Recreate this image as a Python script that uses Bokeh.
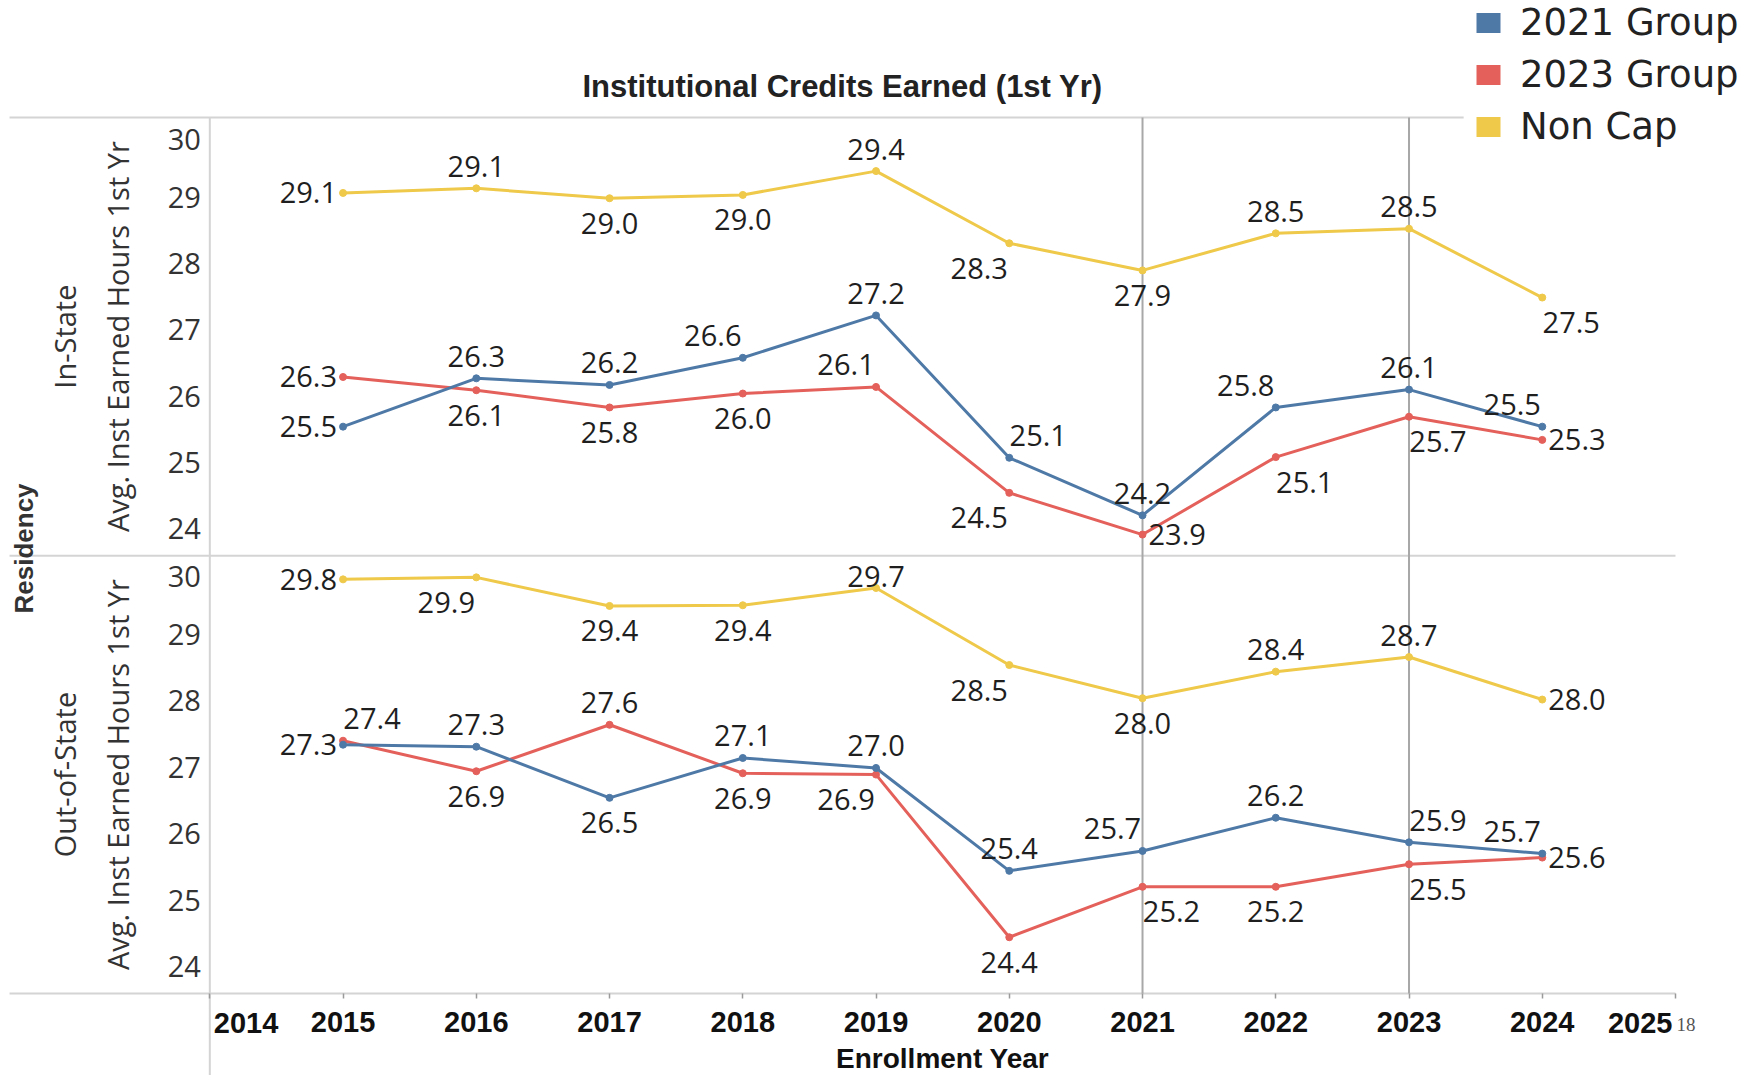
import math
from bokeh.plotting import figure
from bokeh.models import (Range1d, FixedTicker, Label, Legend, LegendItem, ColumnDataSource)
from bokeh.core.properties import value
from bokeh.embed import file_html
from bokeh.resources import INLINE

# ---------------- data ----------------
years = [2015, 2016, 2017, 2018, 2019, 2020, 2021, 2022, 2023, 2024]
tick_years = list(range(2014, 2026))
y_ticks = [24, 25, 26, 27, 28, 29, 30]
series_names = ["2021 Group", "2023 Group", "Non Cap"]
ref_years = [2021, 2023]

in_state_2021 = [25.54, 26.27, 26.17, 26.58, 27.22, 25.07, 24.20, 25.83, 26.10, 25.54]
in_state_2023 = [26.29, 26.09, 25.83, 26.04, 26.14, 24.54, 23.91, 25.08, 25.69, 25.34]
in_state_noncap = [29.07, 29.14, 28.99, 29.04, 29.40, 28.31, 27.90, 28.46, 28.53, 27.49]

out_state_2021 = [27.34, 27.31, 26.54, 27.14, 26.99, 25.44, 25.74, 26.24, 25.87, 25.70]
out_state_2023 = [27.40, 26.94, 27.64, 26.91, 26.89, 24.44, 25.20, 25.20, 25.54, 25.64]
out_state_noncap = [29.83, 29.86, 29.43, 29.44, 29.70, 28.54, 28.04, 28.44, 28.66, 28.02]

# label placement codes (layout only)
pl_in_2021 = ['l', 'a', 'a', 'al', 'a', 'ar', 'a', 'al', 'a', 'al']
pl_in_2023 = ['l', 'b', 'b', 'b', 'al', 'bl', 'r', 'br', 'br', 'r']
pl_in_nc = ['l', 'a', 'b', 'b', 'a', 'bl', 'b', 'a', 'a', 'br']
pl_out_2021 = ['l', 'a', 'b', 'a', 'a', 'a', 'al', 'a', 'ar', 'al']
pl_out_2023 = ['ar', 'b', 'a', 'b', 'bl', 'b', 'br', 'b', 'br', 'r']
pl_out_nc = ['l', 'bl', 'b', 'b', 'A', 'bl', 'b', 'a', 'a', 'r']

colors = {"2021 Group": "#4e79a7", "2023 Group": "#e4605a", "Non Cap": "#eec94a"}

OFF = {'a': (0, -22, 'center'), 'b': (0, 25, 'center'), 'l': (-6, 0, 'right'),
       'r': (6, 0, 'left'), 'al': (-30, -22, 'center'), 'ar': (29, -22, 'center'),
       'bl': (-30, 25, 'center'), 'br': (29, 25, 'center'), 'A': (0, -11, 'center')}

# edge tick label nudge (the top label of each pane sits inside the pane)
y_tick_nudge = [0, 0, 0, 0, 0, 0, 8]

# ---------------- layout constants ----------------
X_START, X_END = 2012.4292, 2025.5929
TABLE_LEFT = 2012.497          # left edge of the table rules
TABLE_RIGHT = 2025.0
TOP_BORDER_END = 2023.41       # top rule stops before the legend
PANE_TOP, DIVIDER, PANE_BOTTOM = 30.21, 23.59, 16.977   # in the In-State scale
BOTTOM_EXT = 15.70

GRID = "#d4d4d4"
REFLINE = "#a8a8a8"
DATA_FONT = value("Open Sans")

p = figure(width=1754, height=1075, output_backend="svg", toolbar_location=None, title=None,
           x_range=Range1d(X_START, X_END), y_range=Range1d(15.739, 31.977),
           y_axis_location=None, min_border=0,
           min_border_left=0, min_border_right=0, min_border_top=0, min_border_bottom=0)
p.extra_y_ranges = {"bot": Range1d(22.358, 38.548)}
p.grid.visible = False
p.outline_line_color = None
p.background_fill_color = "white"
p.border_fill_color = "white"

# x axis placed at the bottom rule of the table
ax = p.xaxis[0]
ax.fixed_location = PANE_BOTTOM
ax.ticker = FixedTicker(ticks=tick_years)
ax.major_label_overrides = {2014: "", 2025: ""}
ax.axis_line_color = None
ax.major_tick_line_color = "#9a9a9a"
ax.major_tick_line_width = 1.5
ax.major_tick_in = 0
ax.major_tick_out = 5
ax.minor_tick_line_color = None
ax.major_label_standoff = 13
ax.major_label_text_font = "Liberation Sans"
ax.major_label_text_font_style = "bold"
ax.major_label_text_font_size = "29px"
ax.major_label_text_color = "#111111"

# table rules and reference lines
p.segment(x0=[TABLE_LEFT] * 3, x1=[TOP_BORDER_END, TABLE_RIGHT, TABLE_RIGHT],
          y0=[PANE_TOP, DIVIDER, PANE_BOTTOM], y1=[PANE_TOP, DIVIDER, PANE_BOTTOM],
          line_color=GRID, line_width=2, level="underlay")
p.segment(x0=[2014], x1=[2014], y0=[PANE_TOP], y1=[BOTTOM_EXT], line_color=GRID, line_width=2,
          level="underlay")
p.segment(x0=ref_years, x1=ref_years, y0=[PANE_TOP] * 2, y1=[PANE_BOTTOM] * 2,
          line_color=REFLINE, line_width=2, level="underlay")

# y tick labels (both panes)
for rng in ["default", "bot"]:
    p.text(x=[2014] * len(y_ticks), y=y_ticks, text=[str(t) for t in y_ticks],
           x_offset=-9, y_offset=y_tick_nudge, text_align="right", text_baseline="middle",
           text_font=DATA_FONT, text_font_size="29px", text_color="#333333",
           y_range_name=rng)

# series
panes = [
    ("default", [("Non Cap", in_state_noncap, pl_in_nc), ("2023 Group", in_state_2023, pl_in_2023),
                 ("2021 Group", in_state_2021, pl_in_2021)]),
    ("bot", [("Non Cap", out_state_noncap, pl_out_nc), ("2023 Group", out_state_2023, pl_out_2023),
             ("2021 Group", out_state_2021, pl_out_2021)]),
]
for rng, series in panes:
    for name, vals, plc in series:
        c = colors[name]
        src = ColumnDataSource(dict(
            x=years, y=vals, label=[f"{v:.1f}" for v in vals],
            dx=[OFF[k][0] for k in plc], dy=[OFF[k][1] for k in plc],
            al=[OFF[k][2] for k in plc]))
        p.line("x", "y", source=src, line_color=c, line_width=3, y_range_name=rng)
        p.scatter("x", "y", source=src, size=7, color=c, y_range_name=rng)
        p.text("x", "y", text="label", source=src, x_offset="dx", y_offset="dy",
               text_align="al", text_baseline="middle",
               text_font=DATA_FONT, text_font_size="29px", text_color="#1f1f1f",
               y_range_name=rng)

# pane / dimension labels (rotated)
for txt, yv, rng, dx, font, style, size in [
        ("In-State", 26.9, "default", -145, "Open Sans", "normal", "29px"),
        ("Avg. Inst Earned Hours 1st Yr", 26.9, "default", -92, "Open Sans", "normal", "29px"),
        ("Out-of-State", 26.89, "bot", -145, "Open Sans", "normal", "29px"),
        ("Avg. Inst Earned Hours 1st Yr", 26.89, "bot", -92, "Open Sans", "normal", "29px"),
        ("Residency", 23.70, "default", -186, "Liberation Sans", "bold", "26px")]:
    p.add_layout(Label(x=2014, y=yv, y_range_name=rng, x_offset=dx, text=txt, angle=math.pi / 2,
                       text_align="center", text_baseline="middle", text_font=font,
                       text_font_style=style, text_font_size=size, text_color="#333333"))

# title
mid_table = (TABLE_LEFT + TABLE_RIGHT) / 2
p.text(x=[mid_table], y=[PANE_TOP], y_offset=-31, text=["Institutional Credits Earned (1st Yr)"],
       text_align="center", text_baseline="middle", text_font=value("Liberation Sans"),
       text_font_style="bold", text_font_size="31px", text_color="#222222")

# edge tick labels, axis title, page number
p.text(x=[2014], y=[PANE_BOTTOM], x_offset=4, y_offset=29, text=["2014"], text_align="left",
       text_baseline="middle", text_font=value("Liberation Sans"), text_font_style="bold",
       text_font_size="29px", text_color="#111111")
p.text(x=[2025], y=[PANE_BOTTOM], x_offset=-3, y_offset=29, text=["2025"], text_align="right",
       text_baseline="middle", text_font=value("Liberation Sans"), text_font_style="bold",
       text_font_size="29px", text_color="#111111")
p.text(x=[(2014 + 2025) / 2], y=[PANE_BOTTOM], y_offset=65, text=["Enrollment Year"],
       text_align="center", text_baseline="middle", text_font=value("Liberation Sans"),
       text_font_style="bold", text_font_size="28px", text_color="#111111")
p.text(x=[2025], y=[PANE_BOTTOM], x_offset=1, y_offset=31, text=["18"], text_align="left",
       text_baseline="middle", text_font=value("Liberation Serif"),
       text_font_size="19px", text_color="#555555")

# legend (zero-area quads at the In-State points provide the swatches)
legend_src = {"2021 Group": in_state_2021, "2023 Group": in_state_2023, "Non Cap": in_state_noncap}
items = []
for name in series_names:
    v = legend_src[name]
    r = p.quad(left=years, right=years, top=v, bottom=v, fill_color=colors[name], line_color=None)
    items.append(LegendItem(label=name, renderers=[r]))
legend = Legend(items=items, location=(1473, 927), glyph_width=30, glyph_height=25,
                label_standoff=17, spacing=9, padding=0, margin=0,
                border_line_color=None, background_fill_alpha=0,
                label_text_font="DejaVu Sans", label_text_font_size="37px",
                label_text_color="#222222")
p.add_layout(legend)

open("out.html", "w").write(file_html(p, INLINE))
